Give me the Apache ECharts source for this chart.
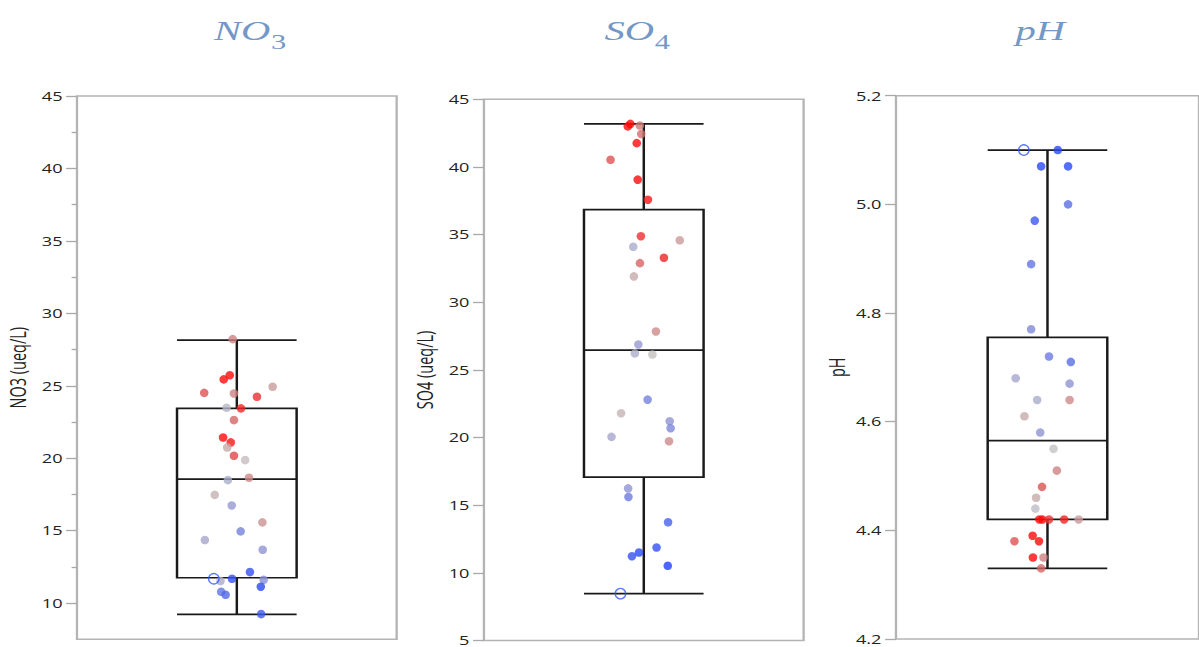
<!DOCTYPE html>
<html><head><meta charset="utf-8">
<script src="https://cdn.jsdelivr.net/npm/echarts@6/dist/echarts.min.js"></script>
<style>
html,body{margin:0;padding:0;background:#fff;overflow:hidden}
#wrap{width:1199px;height:647px;overflow:hidden;position:relative;background:#fff}
#chart{width:827px;height:647px;transform:scaleX(1.4498);transform-origin:0 0}
</style></head>
<body><div id="wrap"><div id="chart"></div></div>
<script>
// ---------- data ----------
const panelTitles = ['NO', 'SO', 'pH'];
const panelSubs = ['3', '4', ''];
const axisNames = ['NO3 (ueq/L)', 'SO4 (ueq/L)', 'pH'];

const no3Values = [28.22,25.44,25.73,24.51,24.47,24.93,24.24,23.48,23.44,22.63,21.43,21.09,20.74,20.17,19.87,18.65,18.49,17.47,16.74,15.57,14.95,14.35,13.68,12.14,11.52,11.68,11.61,11.13,10.78,10.57,9.24];
const no3Jitter = [0.487,0.459,0.478,0.398,0.491,0.612,0.563,0.468,0.513,0.491,0.457,0.481,0.470,0.491,0.526,0.538,0.472,0.431,0.484,0.580,0.512,0.400,0.581,0.541,0.449,0.485,0.584,0.575,0.451,0.465,0.576];
const no3Tone = [0.45,1,1,0.7,0.45,0.3,0.85,-0.1,0.9,0.6,1,0.95,0.2,0.75,0.05,0.4,-0.2,0.15,-0.35,0.35,-0.55,-0.25,-0.4,-0.9,-0.2,-0.9,-0.45,-0.95,-0.65,-0.75,-0.85];

const so4Values = [43.18,43.0,43.06,42.44,41.76,40.53,39.06,37.58,34.88,34.58,34.10,33.29,32.89,31.91,27.84,26.88,26.22,26.14,22.80,21.80,21.21,20.69,20.05,19.73,16.24,15.61,13.74,11.23,11.50,11.87,10.52];
const so4Jitter = [0.458,0.450,0.4875,0.492,0.478,0.396,0.481,0.513,0.491,0.6125,0.467,0.563,0.488,0.469,0.538,0.483,0.472,0.527,0.512,0.429,0.581,0.584,0.399,0.579,0.451,0.452,0.576,0.463,0.485,0.540,0.575];
const so4Tone = [1,1,0.5,0.55,1,0.7,1,0.95,0.85,0.3,-0.2,0.9,0.6,0.2,0.4,-0.35,-0.2,0.02,-0.55,0.12,-0.4,-0.5,-0.25,0.4,-0.4,-0.6,-0.8,-0.9,-0.95,-0.9,-1];

const phValues = [5.10,5.07,5.07,5.00,4.97,4.89,4.77,4.72,4.71,4.68,4.67,4.64,4.64,4.61,4.58,4.55,4.51,4.48,4.46,4.44,4.42,4.42,4.42,4.42,4.42,4.39,4.38,4.38,4.35,4.35,4.33];
const phJitter = [0.534,0.479,0.568,0.568,0.458,0.446,0.446,0.505,0.577,0.395,0.573,0.466,0.573,0.424,0.476,0.520,0.531,0.482,0.4625,0.460,0.473,0.483,0.505,0.555,0.603,0.451,0.472,0.391,0.452,0.487,0.479];
const phTone = [-0.95,-0.95,-0.95,-0.7,-0.85,-0.65,-0.5,-0.6,-0.7,-0.25,-0.4,-0.2,0.4,0.2,-0.4,0.0,0.45,0.7,0.2,-0.05,1,1,0.85,0.9,0.3,1,1,0.7,1,0.45,0.6];

// highlighted (open-circle) sample in each panel
const selectedValues = [11.68, 8.46, 5.10];
const selectedJitter = [0.428, 0.427, 0.422];

// box summaries [lower whisker, Q1, median, Q3, upper whisker]
const no3Box = [9.22, 11.75, 18.56, 23.44, 28.15];
const so4Box = [8.46, 17.08, 26.46, 36.85, 43.18];
const phBox = [4.33, 4.42, 4.565, 4.755, 5.10];

// axes
const no3Range = [7.5, 45];
const so4Range = [5, 45];
const phRange = [4.2, 5.2];
const no3Ticks = [10, 15, 20, 25, 30, 35, 40, 45];
const no3MinorTicks = [12.5, 17.5, 22.5, 27.5, 32.5, 37.5, 42.5];
const so4Ticks = [5, 10, 15, 20, 25, 30, 35, 40, 45];
const phTicks = [4.2, 4.4, 4.6, 4.8, 5.0, 5.2];

// ---------- layout (pre-stretch coordinates) ----------
const gridLeft = [53.1, 333.8, 618.0];
const gridTop = [96, 99.3, 95.7];
const gridW = 220.5, gridH = 543.3;
const titleSplitX = [186.5, 451.2, 717.5];
const titleMidY = 30.8, subMidY = 41.8;
const boxW = 82.5;

const chart = echarts.init(document.getElementById('chart'), null, {renderer: 'svg'});

const titleColor = '#7397c6';
const labelFont = 'Open Sans';
const tickColor = '#a9a9a9';

function yAxisFor(i, range, ticks, name, fmt) {
  return {
    type: 'value', gridIndex: i, min: range[0], max: range[1], position: 'left',
    name: name, nameLocation: 'middle', nameGap: 33,
    nameTextStyle: {fontFamily: labelFont, fontSize: 14.5, color: '#222'},
    axisLine: {show: false}, splitLine: {show: false},
    axisTick: {show: true, length: 7.5, customValues: ticks, lineStyle: {color: tickColor, width: 1.3}},
    axisLabel: {customValues: ticks, margin: 10, fontFamily: labelFont, fontSize: 12.5, color: '#222', formatter: fmt}
  };
}

const grids = [0, 1, 2].map(i => ({
  left: gridLeft[i], top: gridTop[i], width: gridW, height: gridH,
  show: true, borderColor: '#b4b4b4', borderWidth: 1.6, backgroundColor: 'transparent'
}));

const xAxes = [];
[0, 1, 2].forEach(i => {
  xAxes.push({type: 'category', gridIndex: i, data: [axisNames[i]], show: false});
  xAxes.push({type: 'value', gridIndex: i, min: 0, max: 1, show: false});
});

const yAxes = [
  yAxisFor(0, no3Range, no3Ticks, axisNames[0], v => String(v)),
  yAxisFor(1, so4Range, so4Ticks, axisNames[1], v => String(v)),
  yAxisFor(2, phRange, phTicks, axisNames[2], v => Number(v).toFixed(1)),
  {
    type: 'value', gridIndex: 0, min: no3Range[0], max: no3Range[1], position: 'left',
    axisLine: {show: false}, splitLine: {show: false}, axisLabel: {show: false},
    axisTick: {show: true, length: 3.7, customValues: no3MinorTicks, lineStyle: {color: tickColor, width: 1.3}}
  }
];

const panels = [
  {vals: no3Values, jit: no3Jitter, tone: no3Tone, box: no3Box},
  {vals: so4Values, jit: so4Jitter, tone: so4Tone, box: so4Box},
  {vals: phValues, jit: phJitter, tone: phTone, box: phBox}
];

const series = [];
panels.forEach((p, i) => {
  series.push({
    type: 'boxplot', xAxisIndex: 2 * i, yAxisIndex: i, data: [p.box],
    boxWidth: [boxW, boxW], silent: true, z: 2,
    itemStyle: {color: 'rgba(0,0,0,0)', borderColor: '#1a1a1a', borderWidth: 1.7},
    emphasis: {disabled: true}
  });
  series.push({
    type: 'scatter', xAxisIndex: 2 * i + 1, yAxisIndex: i, silent: true, z: 3,
    symbol: 'circle', symbolSize: [5.9, 8.6],
    data: p.vals.map((v, k) => [p.jit[k], v, p.tone[k]])
  });
  series.push({
    type: 'scatter', xAxisIndex: 2 * i + 1, yAxisIndex: i, silent: true, z: 4,
    symbol: 'circle', symbolSize: [7.2, 10.4],
    itemStyle: {color: 'rgba(255,255,255,0)', borderColor: '#2f55ff', borderWidth: 1.1},
    data: [[selectedJitter[i], selectedValues[i]]]
  });
});

// titles: italic chemical symbol plus lowered subscript digit
const graphics = [];
[0, 1, 2].forEach(i => {
  const hasSub = !!panelSubs[i];
  graphics.push({
    type: 'text', x: titleSplitX[i], y: titleMidY, silent: true,
    style: {text: panelTitles[i], font: 'italic 28px "Liberation Serif"', fill: titleColor,
            textAlign: hasSub ? 'right' : 'center', textVerticalAlign: 'middle'}
  });
  if (hasSub) {
    graphics.push({
      type: 'text', x: titleSplitX[i] + 0.5, y: subMidY, silent: true,
      style: {text: panelSubs[i], font: '21px "Liberation Serif"', fill: titleColor,
              textAlign: 'left', textVerticalAlign: 'middle'}
    });
  }
});

chart.setOption({
  animation: false,
  backgroundColor: '#fff',
  grid: grids,
  xAxis: xAxes,
  yAxis: yAxes,
  graphic: graphics,
  visualMap: [{
    type: 'continuous', show: false, dimension: 2, min: -1, max: 1, seriesIndex: [1, 4, 7],
    inRange: {color: ['#2040ff', '#5068e8', '#8088d8', '#a4a6cc', '#c4c2c4', '#c8a4a4', '#d07878', '#e04848', '#ff0a0a']}
  }],
  series: series
});
</script>
</body></html>
